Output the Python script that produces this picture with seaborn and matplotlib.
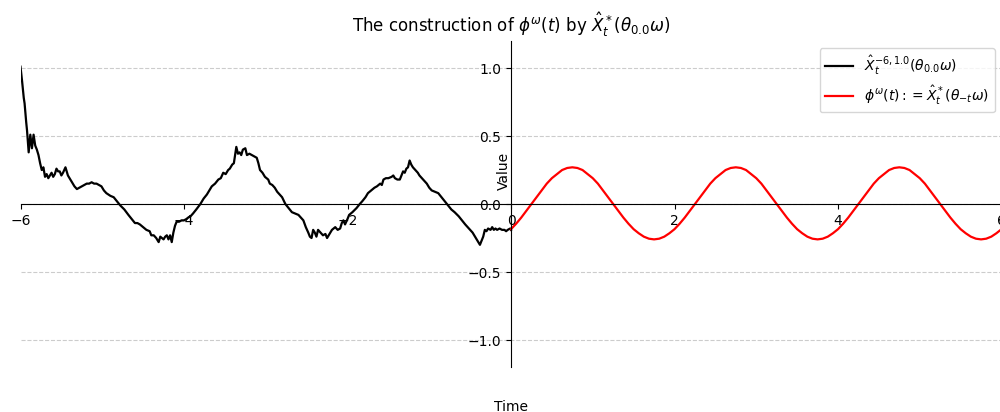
import numpy as np
import pandas as pd
import matplotlib
matplotlib.use("Agg")
import matplotlib.pyplot as plt
import seaborn as sns

# Black path: X_hat_t^{-6,1.0}(theta_0 omega) on [-6, 0]
black_t = [-6.00, -5.98, -5.96, -5.95, -5.93, -5.92, -5.90, -5.88, -5.86, -5.84,
           -5.82, -5.80, -5.78, -5.76, -5.74, -5.72, -5.70, -5.68, -5.66, -5.64,
           -5.62, -5.60, -5.58, -5.56, -5.54, -5.52, -5.50, -5.48, -5.45, -5.42,
           -5.40, -5.37, -5.34, -5.31, -5.28, -5.25, -5.22, -5.19, -5.16, -5.13,
           -5.10, -5.07, -5.04, -5.01, -4.98, -4.95, -4.90, -4.86, -4.82, -4.78,
           -4.73, -4.68, -4.64, -4.60, -4.57, -4.54, -4.50, -4.46, -4.42, -4.40,
           -4.37, -4.34, -4.31, -4.29, -4.27, -4.25, -4.23, -4.21, -4.19, -4.17,
           -4.15, -4.13, -4.11, -4.09, -4.06, -4.03, -4.00, -3.97, -3.95, -3.92,
           -3.89, -3.85, -3.80, -3.76, -3.72, -3.69, -3.66, -3.62, -3.58, -3.55,
           -3.52, -3.49, -3.46, -3.44, -3.41, -3.39, -3.36, -3.34, -3.32, -3.30,
           -3.28, -3.25, -3.23, -3.20, -3.17, -3.14, -3.11, -3.09, -3.07, -3.04,
           -3.01, -2.97, -2.95, -2.92, -2.89, -2.86, -2.83, -2.80, -2.76, -2.72,
           -2.68, -2.64, -2.60, -2.57, -2.54, -2.51, -2.48, -2.46, -2.44, -2.42,
           -2.40, -2.38, -2.36, -2.33, -2.30, -2.27, -2.25, -2.22, -2.19, -2.15,
           -2.12, -2.09, -2.07, -2.05, -2.03, -2.00, -1.98, -1.94, -1.89, -1.85,
           -1.82, -1.78, -1.75, -1.71, -1.67, -1.64, -1.60, -1.58, -1.56, -1.53,
           -1.50, -1.46, -1.44, -1.42, -1.39, -1.36, -1.32, -1.30, -1.28, -1.26,
           -1.24, -1.22, -1.20, -1.17, -1.14, -1.12, -1.09, -1.06, -1.03, -1.00,
           -0.97, -0.93, -0.89, -0.85, -0.81, -0.77, -0.73, -0.69, -0.64, -0.60,
           -0.56, -0.53, -0.50, -0.47, -0.44, -0.41, -0.38, -0.36, -0.34, -0.32,
           -0.30, -0.28, -0.25, -0.23, -0.21, -0.19, -0.17, -0.14, -0.11, -0.08,
           -0.06, -0.04, -0.01, 0.00]
black_v = [1.01, 0.90, 0.78, 0.74, 0.60, 0.54, 0.38, 0.51, 0.41, 0.51,
           0.43, 0.40, 0.36, 0.30, 0.25, 0.27, 0.20, 0.22, 0.19, 0.21,
           0.23, 0.20, 0.22, 0.26, 0.24, 0.24, 0.21, 0.23, 0.27, 0.21,
           0.19, 0.16, 0.13, 0.11, 0.12, 0.13, 0.14, 0.15, 0.15, 0.16,
           0.15, 0.15, 0.14, 0.13, 0.10, 0.08, 0.06, 0.05, 0.02, -0.01,
           -0.04, -0.08, -0.11, -0.14, -0.14, -0.15, -0.17, -0.19, -0.20, -0.23,
           -0.23, -0.25, -0.28, -0.24, -0.25, -0.26, -0.24, -0.23, -0.26, -0.23,
           -0.28, -0.21, -0.16, -0.13, -0.13, -0.12, -0.12, -0.11, -0.10, -0.09,
           -0.07, -0.04, 0.00, 0.04, 0.07, 0.10, 0.13, 0.15, 0.18, 0.19,
           0.23, 0.22, 0.25, 0.26, 0.29, 0.30, 0.42, 0.37, 0.38, 0.36,
           0.40, 0.41, 0.36, 0.37, 0.36, 0.35, 0.34, 0.30, 0.25, 0.23,
           0.20, 0.18, 0.15, 0.14, 0.12, 0.09, 0.07, 0.05, 0.00, -0.03,
           -0.06, -0.07, -0.08, -0.10, -0.12, -0.17, -0.21, -0.24, -0.25, -0.19,
           -0.21, -0.24, -0.19, -0.21, -0.23, -0.22, -0.25, -0.22, -0.19, -0.17,
           -0.19, -0.18, -0.14, -0.12, -0.15, -0.11, -0.08, -0.06, -0.03, 0.00,
           0.02, 0.05, 0.08, 0.10, 0.12, 0.13, 0.15, 0.14, 0.18, 0.19,
           0.19, 0.20, 0.21, 0.19, 0.18, 0.18, 0.24, 0.23, 0.26, 0.27,
           0.32, 0.29, 0.27, 0.25, 0.23, 0.21, 0.19, 0.17, 0.15, 0.12,
           0.10, 0.09, 0.08, 0.05, 0.02, -0.01, -0.04, -0.06, -0.09, -0.12,
           -0.15, -0.17, -0.19, -0.21, -0.24, -0.27, -0.30, -0.27, -0.24, -0.19,
           -0.20, -0.18, -0.19, -0.17, -0.19, -0.18, -0.19, -0.18, -0.19, -0.19,
           -0.20, -0.19, -0.18, -0.19]

# Red path: phi^omega(t) on [0, 6], read every 0.0625
red_t = list(np.linspace(0.0, 6.0, 97))
red_v = [-0.185, -0.145, -0.10, -0.05, 0.00, 0.05, 0.10, 0.15, 0.19, 0.22, 0.25, 0.265, 0.27, 0.265, 0.25, 0.22,
         0.19, 0.15, 0.10, 0.05, 0.00, -0.05, -0.10, -0.145, -0.185, -0.215, -0.24, -0.255, -0.26, -0.255, -0.24, -0.215,
         -0.185, -0.145, -0.10, -0.05, 0.00, 0.05, 0.10, 0.15, 0.19, 0.22, 0.25, 0.265, 0.27, 0.265, 0.25, 0.22,
         0.19, 0.15, 0.10, 0.05, 0.00, -0.05, -0.10, -0.145, -0.185, -0.215, -0.24, -0.255, -0.26, -0.255, -0.24, -0.215,
         -0.185, -0.145, -0.10, -0.05, 0.00, 0.05, 0.10, 0.15, 0.19, 0.22, 0.25, 0.265, 0.27, 0.265, 0.25, 0.22,
         0.19, 0.15, 0.10, 0.05, 0.00, -0.05, -0.10, -0.145, -0.185, -0.215, -0.24, -0.255, -0.26, -0.255, -0.24, -0.215,
         -0.185]

x_ticks = [-6, -4, -2, 0, 2, 4, 6]
y_ticks = [-1.0, -0.5, 0.0, 0.5, 1.0]

black_label = r"$\hat{X}_t^{-6,1.0}(\theta_{0.0}\omega)$"
red_label = r"$\phi^\omega(t) := \hat{X}^*_t(\theta_{-t}\omega)$"
title = r"The construction of $\phi^\omega(t)$ by $\hat{X}^*_t(\theta_{0.0}\omega)$"

df_black = pd.DataFrame({"t": black_t, "v": black_v})
df_red = pd.DataFrame({"t": red_t, "v": red_v})

fig = plt.figure(figsize=(10, 4.12), dpi=100)
ax = fig.add_axes([0.0205, 0.1087, 0.981, 0.7922])

sns.lineplot(data=df_black, x="t", y="v", color="black", linewidth=1.6,
             estimator=None, sort=False, label=black_label, ax=ax)
sns.lineplot(data=df_red, x="t", y="v", color="red", linewidth=1.6,
             estimator=None, sort=False, label=red_label, ax=ax)

ax.set_xlim(-6, 6)
ax.set_ylim(-1.2, 1.2)
ax.set_xticks(x_ticks)
ax.set_yticks(y_ticks)

ax.spines["left"].set_position("zero")
ax.spines["bottom"].set_position("zero")
ax.spines["right"].set_visible(False)
ax.spines["top"].set_visible(False)

ax.yaxis.grid(True, linestyle="--", color="gray", alpha=0.4, linewidth=0.8)
ax.xaxis.grid(False)

ax.set_xlabel("Time")
ax.set_ylabel("Value")
ax.xaxis.set_label_coords(0.5, -0.1)
ax.yaxis.set_label_coords(0.5, 0.6)

ax.set_title(title)
ax.legend(loc="upper right")

fig.savefig("out.png", dpi=100)
